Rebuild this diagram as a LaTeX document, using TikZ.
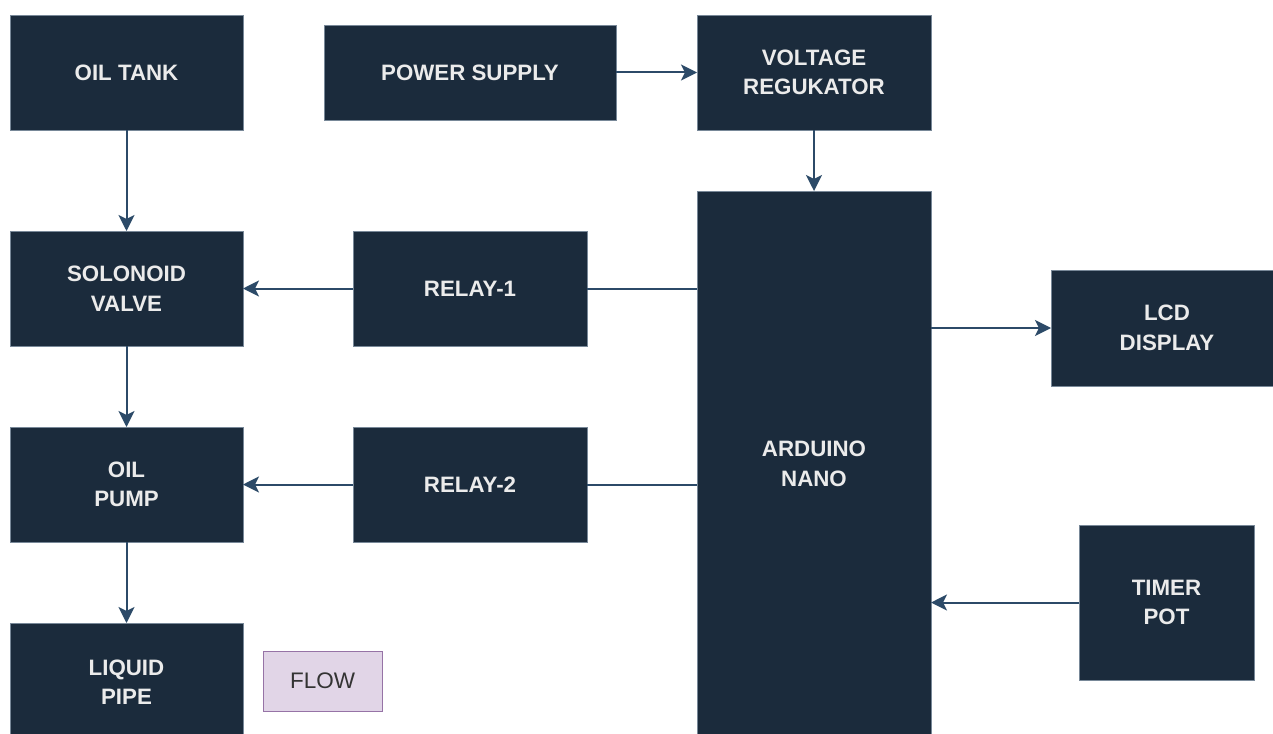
\documentclass[tikz,border=0pt]{standalone}
\usepackage{fontspec}
\setmainfont{Liberation Sans}
\usetikzlibrary{arrows.meta}
\definecolor{boxfill}{RGB}{27,43,60}
\definecolor{boxline}{RGB}{120,136,152}
\definecolor{arrowc}{RGB}{44,74,104}
\definecolor{flowfill}{RGB}{225,213,231}
\definecolor{flowline}{RGB}{150,115,166}
\definecolor{flowtext}{RGB}{51,51,51}
\tikzset{
  blk/.style={draw=boxline, line width=0.6pt, fill=boxfill, text=white!92!black,
    inner sep=0pt, outer sep=0pt, align=center,
    font=\fontsize{22.3}{29.5}\selectfont\bfseries},
  flowbox/.style={draw=flowline, line width=1pt, fill=flowfill, text=flowtext,
    inner sep=0pt, outer sep=0pt, font=\fontsize{22.5}{25}\selectfont},
  conn/.style={draw=arrowc, line width=2pt},
  arr/.style={conn, -{Stealth[length=16pt,width=16pt,inset=4pt]}}
}
\begin{document}
\begin{tikzpicture}[x=1pt,y=-1pt]
\useasboundingbox[fill=white] (0,0) rectangle (1273,733);
\node[blk, minimum width=233pt, minimum height=115pt] (tank) at (126.5,72.5) {OIL TANK};
\node[blk, minimum width=292pt, minimum height=95pt] (ps) at (470,72.5) {POWER SUPPLY};
\node[blk, minimum width=234pt, minimum height=115pt] (vr) at (814,72.5) {VOLTAGE\\REGUKATOR};
\node[blk, minimum width=233pt, minimum height=115pt] (sv) at (126.5,288.5) {SOLONOID\\VALVE};
\node[blk, minimum width=234pt, minimum height=115pt] (r1) at (470,288.5) {RELAY-1};
\node[blk, minimum width=234pt, minimum height=546pt] (ard) at (814,464) {ARDUINO\\NANO};
\node[blk, minimum width=232pt, minimum height=116pt] (lcd) at (1167,328) {LCD\\DISPLAY};
\node[blk, minimum width=233pt, minimum height=115pt] (pump) at (126.5,484.5) {OIL\\PUMP};
\node[blk, minimum width=234pt, minimum height=115pt] (r2) at (470,484.5) {RELAY-2};
\node[blk, minimum width=175pt, minimum height=155pt] (timer) at (1166.5,602.5) {TIMER\\POT};
\node[blk, minimum width=233pt, minimum height=118pt] (pipe) at (126.5,682) {LIQUID\\PIPE};
\node[flowbox, minimum width=119pt, minimum height=60pt] (flow) at (322.5,681) {FLOW};

\draw[arr] (tank.south) -- (sv.north);
\draw[arr] (sv.south) -- (pump.north);
\draw[arr] (pump.south) -- (pipe.north);
\draw[arr] (r1.west) -- (sv.east);
\draw[arr] (r2.west) -- (pump.east);
\draw[conn] (ard.west |- r1.east) -- (r1.east);
\draw[conn] (ard.west |- r2.east) -- (r2.east);
\draw[arr] (ps.east) -- (vr.west);
\draw[arr] (vr.south) -- (ard.north);
\draw[arr] (ard.east |- lcd.west) -- (lcd.west);
\draw[arr] (timer.west) -- (ard.east |- timer.west);
\end{tikzpicture}
\end{document}
